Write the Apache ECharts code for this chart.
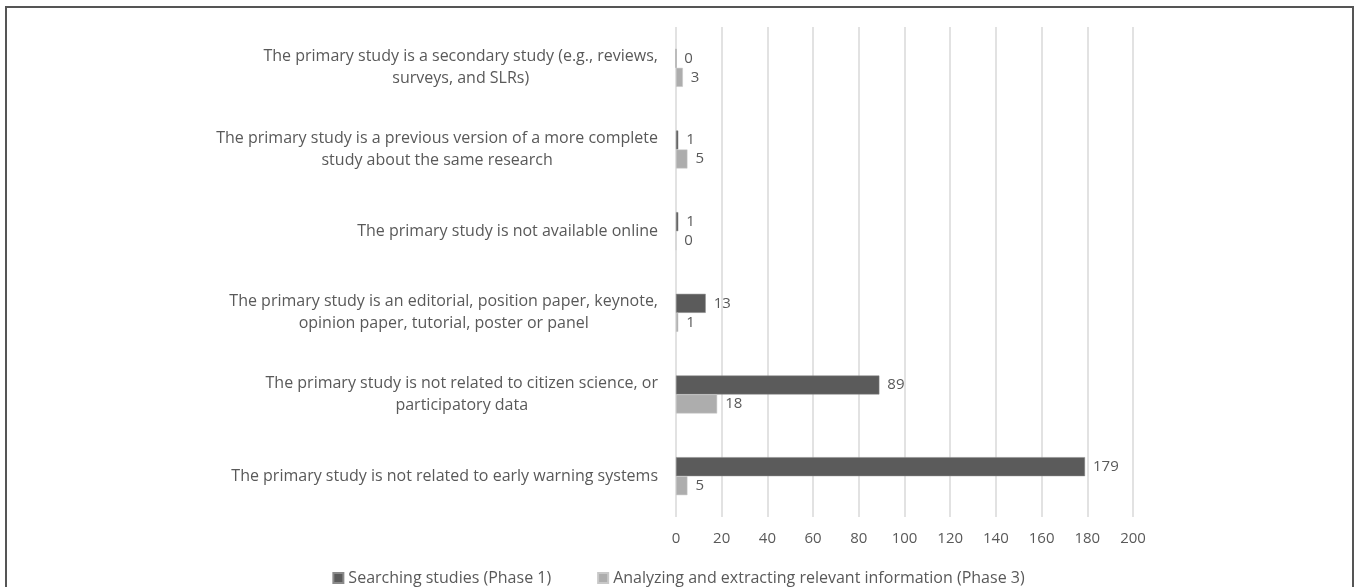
<!DOCTYPE html>
<html>
<head>
<meta charset="utf-8">
<script src="https://cdn.jsdelivr.net/npm/echarts@6/dist/echarts.min.js"></script>
<style>
  html, body { margin: 0; padding: 0; background: #fff; }
  #frame { position: absolute; left: 5px; top: 6px; width: 1349px; height: 600px; border: 2px solid #555; box-sizing: border-box; }
  #chart { position: absolute; left: 0; top: 0; width: 1357px; height: 587px; }
</style>
</head>
<body>
<div id="frame"></div>
<div id="chart"></div>
<script>
// categories from bottom to top
var motivos = [
    'The primary study is not related to early warning systems',
    'The primary study is not related to citizen science, or\nparticipatory data',
    'The primary study is an editorial, position paper, keynote,\nopinion paper, tutorial, poster or panel',
    'The primary study is not available online',
    'The primary study is a previous version of a more complete\nstudy about the same research',
    'The primary study is a secondary study (e.g., reviews,\nsurveys, and SLRs)'
];
var fase1 = [179, 89, 13, 1, 1, 0];
var fase3 = [5, 18, 1, 0, 5, 3];
var ticksX = [0, 20, 40, 60, 80, 100, 120, 140, 160, 180, 200];

var chart = echarts.init(document.getElementById('chart'));
var fuente = 'Open Sans';
var gris = '#595959';

function etiqueta() {
    return {
        show: true,
        position: 'right',
        distance: 8,
        color: gris,
        fontFamily: fuente,
        fontSize: 15
    };
}

var option = {
    animation: false,
    textStyle: { fontFamily: fuente },
    grid: { left: 676, right: 224, top: 27, bottom: 70, containLabel: false },
    legend: {
        top: 565,
        left: 'center',
        icon: 'rect',
        itemWidth: 10,
        itemHeight: 10,
        itemGap: 46,
        textStyle: { color: gris, fontFamily: fuente, fontSize: 16 },
        data: ['Searching studies (Phase 1)', 'Analyzing and extracting relevant information (Phase 3)']
    },
    xAxis: {
        type: 'value',
        min: ticksX[0],
        max: ticksX[ticksX.length - 1],
        interval: 20,
        axisLine: { show: false },
        axisTick: { show: false },
        axisLabel: { color: gris, fontSize: 15, fontFamily: fuente, margin: 14 },
        splitLine: { lineStyle: { color: '#d9d9d9', width: 1.5 } }
    },
    yAxis: {
        type: 'category',
        data: motivos,
        axisLine: { show: false },
        axisTick: { show: false },
        axisLabel: {
            margin: 18,
            color: gris,
            fontFamily: fuente,
            fontSize: 16,
            formatter: function (v) {
                return v.split('\n').map(function (l) { return '{c|' + l + '}'; }).join('\n');
            },
            rich: { c: { align: 'center', color: gris, fontFamily: fuente, fontSize: 16, lineHeight: 22 } }
        }
    },
    series: [
        {
            name: 'Searching studies (Phase 1)',
            type: 'bar',
            data: fase1,
            barWidth: 19,
            barGap: '0%',
            itemStyle: { color: '#5b5b5b', borderColor: '#8a8a8a', borderWidth: 0.5 },
            label: etiqueta()
        },
        {
            name: 'Analyzing and extracting relevant information (Phase 3)',
            type: 'bar',
            data: fase3,
            barWidth: 19,
            barGap: '0%',
            itemStyle: { color: '#adadad', borderColor: '#c8c8c8', borderWidth: 0.5 },
            label: etiqueta()
        }
    ]
};
chart.setOption(option);
</script>
</body>
</html>
